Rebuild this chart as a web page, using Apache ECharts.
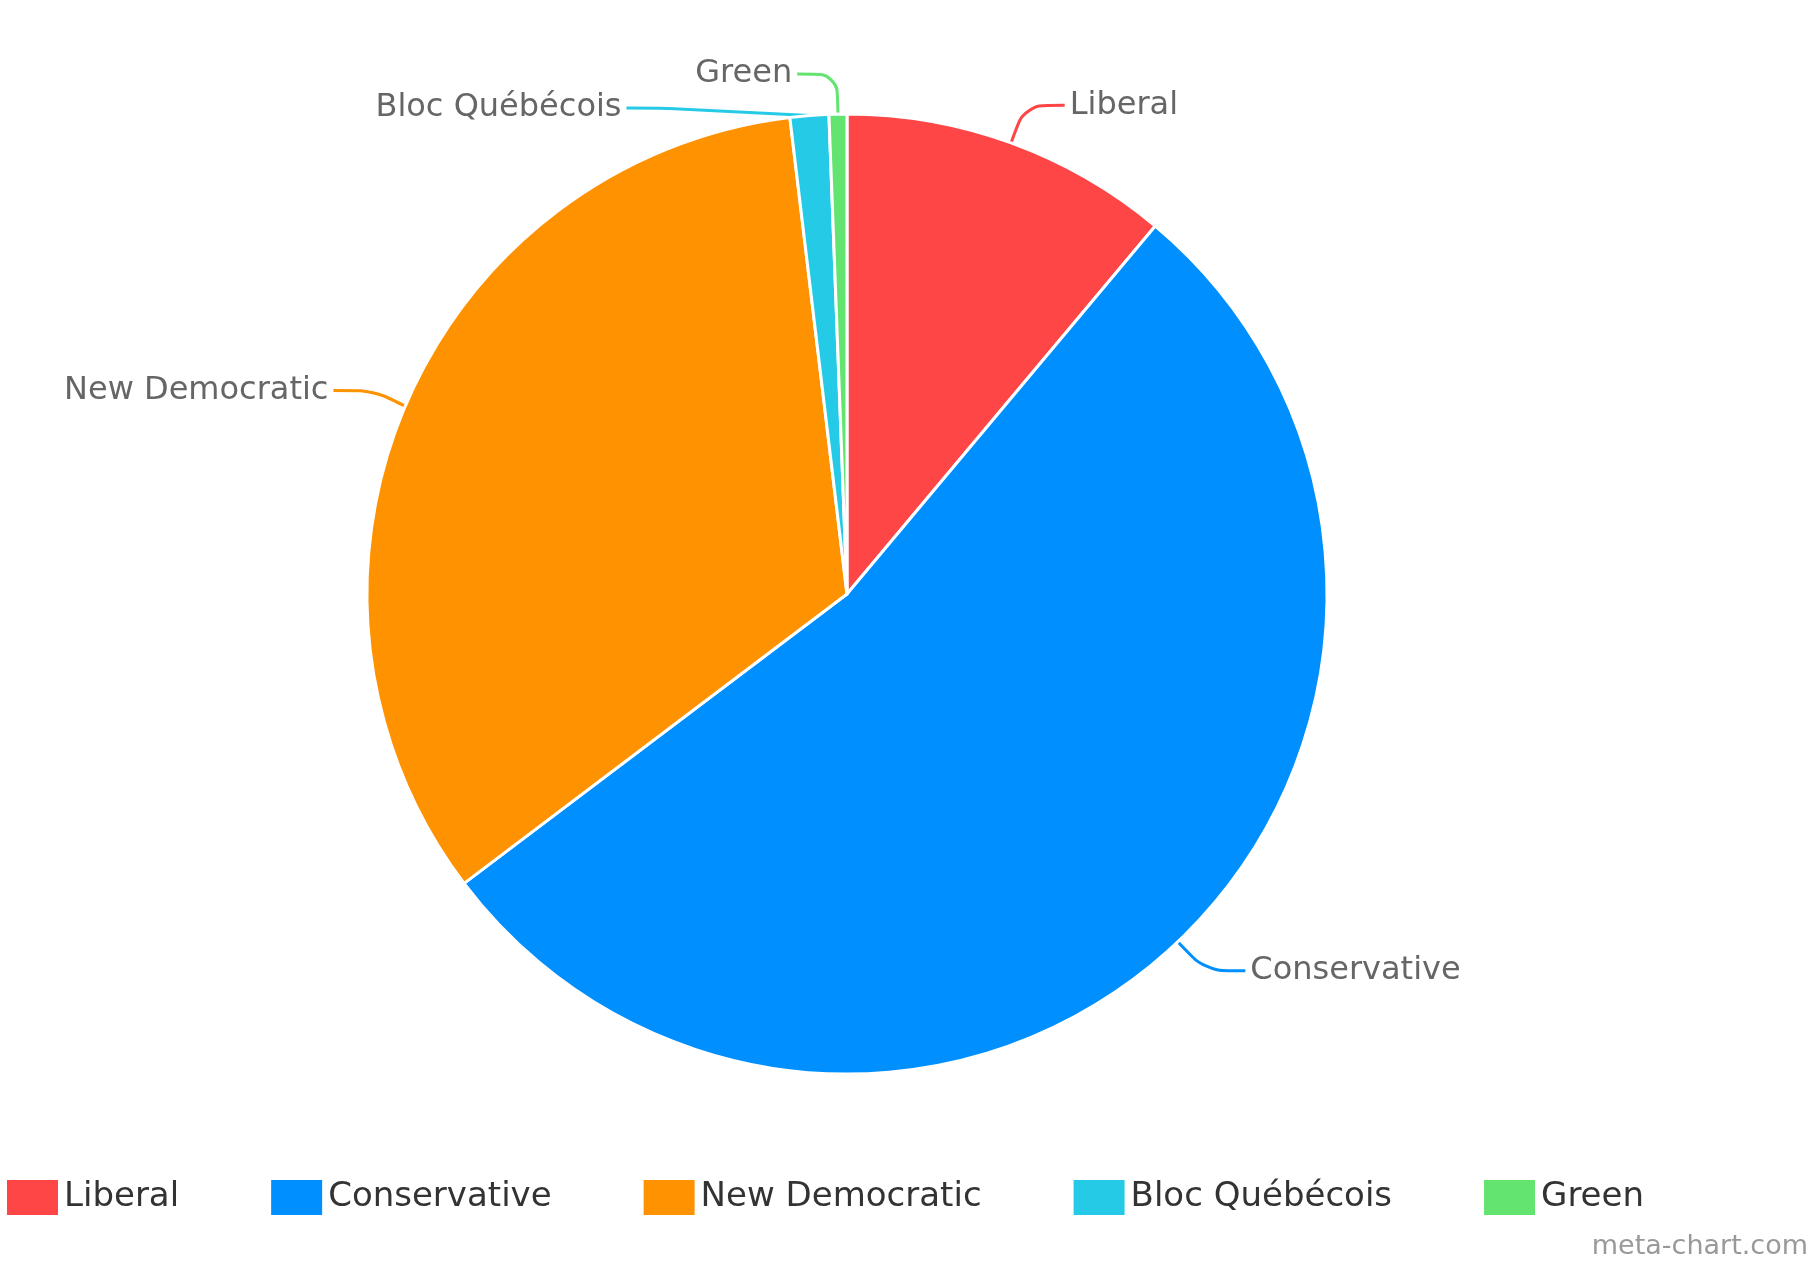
<!DOCTYPE html>
<html><head><meta charset="utf-8">
<script src="https://cdn.jsdelivr.net/npm/echarts@6/dist/echarts.min.js"></script>
<style>html,body{margin:0;padding:0;background:#fff}#c{width:1812px;height:1264px}</style>
</head><body><div id="c"></div>
<script>
const categories = ["Liberal","Conservative","New Democratic","Bloc Québécois","Green"];
const values = [11.1, 53.6, 33.4, 1.3, 0.6];
const colors = ["#ff4646","#008ffe","#fe9200","#25cbe6","#63e471"];
const chart = echarts.init(document.getElementById('c'));
chart.setOption({
  animation:false,
  color: colors,
  textStyle:{fontFamily:'DejaVu Sans'},
  legend:{
    bottom: 42, left: 0, right: 0, itemGap: 90,
    itemWidth: 53, itemHeight: 37, icon:'rect',
    textStyle:{fontSize:34,color:'#333',fontFamily:'DejaVu Sans'},
    data: categories
  },
  graphic:[{type:'text',right:4,bottom:4,style:{text:'meta-chart.com',fontSize:27,fill:'#999',fontFamily:'DejaVu Sans'}}],
  series:[{
    type:'pie',
    center:[847,594], radius:[0,480],
    startAngle:90, clockwise:true,
    itemStyle:{borderColor:'#fff',borderWidth:3},
    label:{fontSize:32,color:'#666',fontFamily:'DejaVu Sans'},
    labelLine:{length:40,length2:40,smooth:true,lineStyle:{width:3}},
    data: categories.map((n,i)=>({name:n,value:values[i]}))
  }]
});
</script></body></html>
